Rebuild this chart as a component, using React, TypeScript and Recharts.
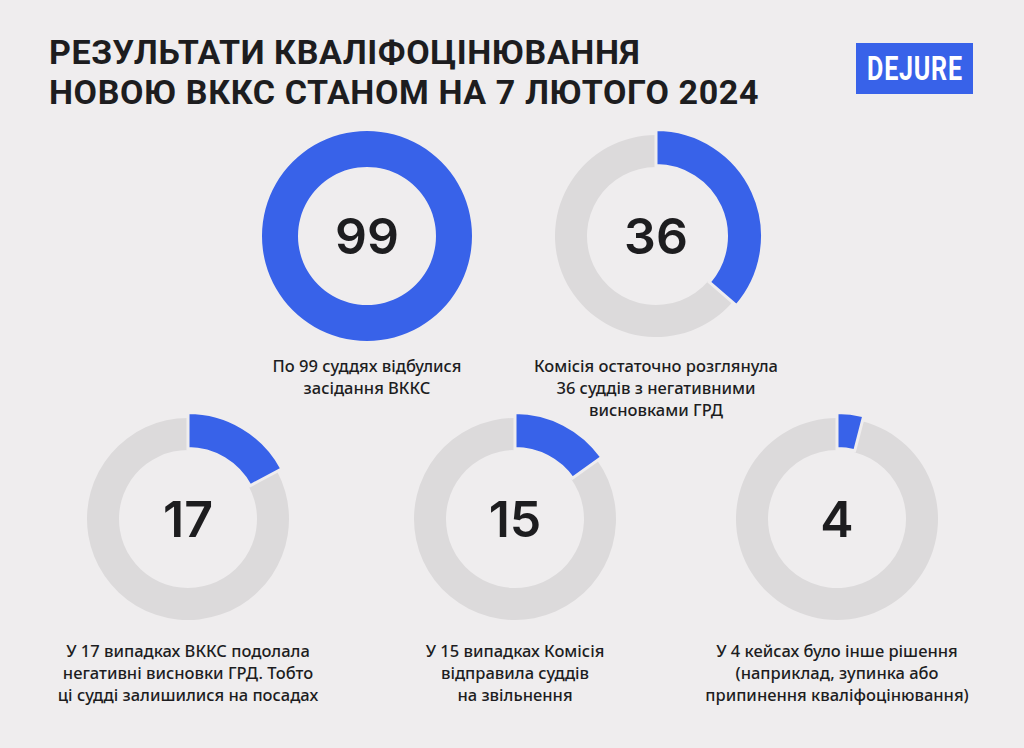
import { PieChart, Pie, Cell } from "recharts";

const BG = "#efedee";
const BLUE = "#3862e9";
const GRAY = "#dcdadb";
const TEXT = "#1d1d1f";

const title = [
  "РЕЗУЛЬТАТИ КВАЛІФОЦІНЮВАННЯ",
  "НОВОЮ ВККС СТАНОМ НА 7 ЛЮТОГО 2024",
];

const total = 99;
const values = [99, 36, 17, 15, 4];
const captions = [
  ["По 99 суддях відбулися", "засідання ВККС"],
  ["Комісія остаточно розглянула", "36 суддів з негативними", "висновками ГРД"],
  ["У 17 випадках ВККС подолала", "негативні висновки ГРД. Тобто", "ці судді залишилися на посадах"],
  ["У 15 випадках Комісія", "відправила суддів", "на звільнення"],
  ["У 4 кейсах було інше рішення", "(наприклад, зупинка або", "припинення кваліфоцінювання)"],
];

// layout of each donut: center and caption top
const spots = [
  { cx: 367, cy: 236, capY: 355 },
  { cx: 656, cy: 236, capY: 355 },
  { cx: 188, cy: 519, capY: 640 },
  { cx: 515, cy: 519, capY: 640 },
  { cx: 837, cy: 519, capY: 640 },
];

const SIZE = 230;
const font = "'Noto Sans', 'Open Sans', sans-serif";

function Donut({ value, cx, cy }: { value: number; cx: number; cy: number }) {
  const data = [
    { name: "value", value },
    { name: "rest", value: total - value },
  ];
  const full = value >= total;
  return (
    <div style={{ position: "absolute", left: cx - SIZE / 2, top: cy - SIZE / 2 }}>
      <PieChart width={SIZE} height={SIZE}>
        <Pie
          data={data}
          dataKey="value"
          cx="50%"
          cy="50%"
          innerRadius={69}
          outerRadius={101}
          startAngle={90}
          endAngle={-270}
          isAnimationActive={false}
        >
          <Cell fill="transparent" stroke="none" />
          <Cell fill={GRAY} stroke="none" />
        </Pie>
        <Pie
          data={data}
          dataKey="value"
          cx="50%"
          cy="50%"
          innerRadius={full ? 69 : 70.5}
          outerRadius={full ? 105 : 106.5}
          startAngle={90}
          endAngle={-270}
          isAnimationActive={false}
        >
          <Cell fill={BLUE} stroke={full ? "none" : BG} strokeWidth={3} />
          <Cell fill="transparent" stroke="none" />
        </Pie>
      </PieChart>
      <div
        style={{
          position: "absolute",
          left: 0,
          top: 0,
          width: SIZE,
          height: SIZE,
          display: "flex",
          alignItems: "center",
          justifyContent: "center",
          fontFamily: "Inter, 'Noto Sans', sans-serif",
          fontWeight: 600,
          fontSize: 50,
          color: TEXT,
          pointerEvents: "none",
        }}
      >
        {value}
      </div>
    </div>
  );
}

export default function App() {
  return (
    <div
      style={{
        position: "absolute",
        left: 0,
        top: 0,
        width: 1024,
        height: 748,
        background: BG,
        overflow: "hidden",
        fontFamily: font,
      }}
    >
      {title.map((t, i) => (
        <div
          key={t}
          style={{
            position: "absolute",
            left: 49,
            top: 32 + i * 40,
            height: 40,
            fontFamily: "Roboto, sans-serif",
            fontWeight: 700,
            fontSize: 34,
            lineHeight: "40px",
            letterSpacing: 0.6,
            color: TEXT,
            whiteSpace: "nowrap",
          }}
        >
          {t}
        </div>
      ))}
      <div
        style={{
          position: "absolute",
          left: 856,
          top: 43,
          width: 117,
          height: 51,
          background: BLUE,
          color: "#fff",
          display: "flex",
          alignItems: "center",
          justifyContent: "center",
          fontFamily: "Roboto, sans-serif",
          fontWeight: 700,
          fontSize: 33,
          overflow: "hidden",
        }}
      >
        <span style={{ display: "inline-block", transform: "scaleX(0.76)", letterSpacing: 1 }}>
          DEJURE
        </span>
      </div>
      {values.map((v, i) => (
        <Donut key={i} value={v} cx={spots[i].cx} cy={spots[i].cy} />
      ))}
      {captions.map((lines, i) => (
        <div
          key={"c" + i}
          style={{
            position: "absolute",
            left: spots[i].cx - 160,
            top: spots[i].capY,
            width: 320,
            textAlign: "center",
            fontSize: 16.5,
            fontWeight: 500,
            lineHeight: "22px",
            color: TEXT,
          }}
        >
          {lines.map((l) => (
            <div key={l}>{l}</div>
          ))}
        </div>
      ))}
    </div>
  );
}
